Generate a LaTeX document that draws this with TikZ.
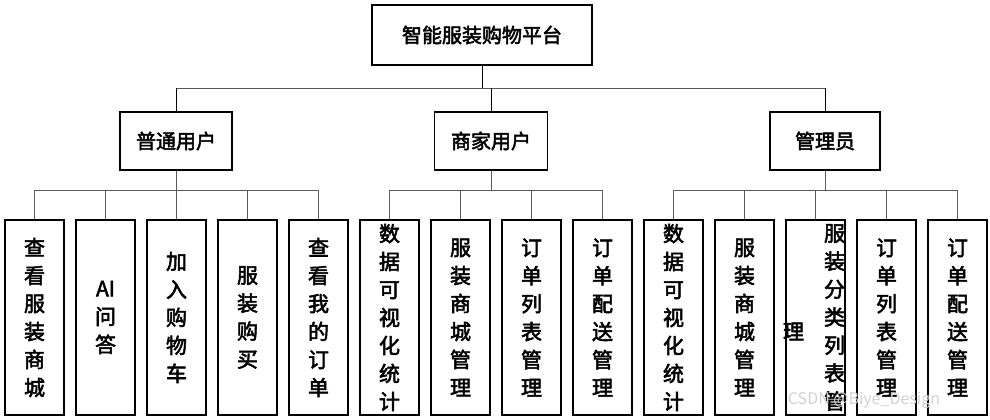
\documentclass[tikz,border=0pt]{standalone}
\usepackage{fontspec}
\setmainfont{Noto Sans CJK SC}[AutoFakeBold=2.5]
\usetikzlibrary{positioning, calc}
\definecolor{lnGray}{RGB}{90, 90, 90}
\tikzset{
    base/.style={
        font=\bfseries,
        align=center
    },
    box/.style={
        base,
        rectangle,
        draw=black,
        line width=1.3pt,
        fill=white,
        inner sep=0pt
    },
    root/.style={
        box,
        minimum width=220pt,
        minimum height=60pt,
        font=\fontsize{20}{24}\selectfont\bfseries
    },
    role/.style={
        box,
        minimum height=58pt,
        font=\fontsize{20}{24}\selectfont\bfseries
    },
    leaf/.style={
        box,
        minimum width=59pt,
        minimum height=195pt,
        font=\fontsize{21}{28}\selectfont\bfseries
    },
    link/.style={
        draw=lnGray,
        line width=0.9pt
    }
}
\begin{document}
\begin{tikzpicture}[x=1pt, y=-1pt]
  \useasboundingbox (0,0) rectangle (990,420);

  % Root
  \node[root] (plat) at (482,35) {智能服装购物平台};

  % Roles
  \node[role, minimum width=112pt] (user) at (176,141) {普通用户};
  \node[role, minimum width=113pt] (shop) at (491,141) {商家用户};
  \node[role, minimum width=110pt] (admin) at (825,141) {管理员};

  % Leaves
  \foreach \i/\txt in {0/查\\看\\服\\装\\商\\城, 1/AI\\问\\答, 2/加\\入\\购\\物\\车,
      3/服\\装\\购\\买, 4/查\\看\\我\\的\\订\\单, 5/数\\据\\可\\视\\化\\统\\计,
      6/服\\装\\商\\城\\管\\理, 7/订\\单\\列\\表\\管\\理, 8/订\\单\\配\\送\\管\\理,
      9/数\\据\\可\\视\\化\\统\\计, 10/服\\装\\商\\城\\管\\理, 12/订\\单\\列\\表\\管\\理,
      13/订\\单\\配\\送\\管\\理}
    \node[leaf] (f\i) at (34.5+71*\i,317.5) {\txt};
  \node[leaf, text width=59pt, align=right] (f11) at (34.5+71*11,317.5)
    {服\hspace{6pt}\\装\hspace{6pt}\\分\hspace{6pt}\\类\hspace{6pt}\\列\hspace{6pt}\\表\hspace{6pt}\\管\hspace{6pt}};
  \node[base, font=\fontsize{21}{28}\selectfont\bfseries] (f11b) at ($(f11.center)+(-22,14)$) {理};

  % Connections
  \coordinate (top) at (482,88);
  \draw[link, black] (plat) -- (top);
  \draw[link] (user.north |- top) -- (admin.north |- top);
  \foreach \r in {user, shop, admin}
    \draw[link, black] (\r.north |- top) -- (\r.north);
  \foreach \r/\a/\b in {user/0/4, shop/5/8, admin/9/13} {
    \draw[link] (\r.south) -- (\r.south |- 0,190);
    \draw[link] (f\a.north |- 0,190) -- (f\b.north |- 0,190);
  }
  \foreach \i in {0,...,13}
    \draw[link] (f\i.north |- 0,190) -- (f\i.north);

  % Watermark
  \node[font=\fontsize{16}{20}\selectfont, text=gray!35] (mark) at (864,400) {CSDN @Biye\_Design};
\end{tikzpicture}
\end{document}
